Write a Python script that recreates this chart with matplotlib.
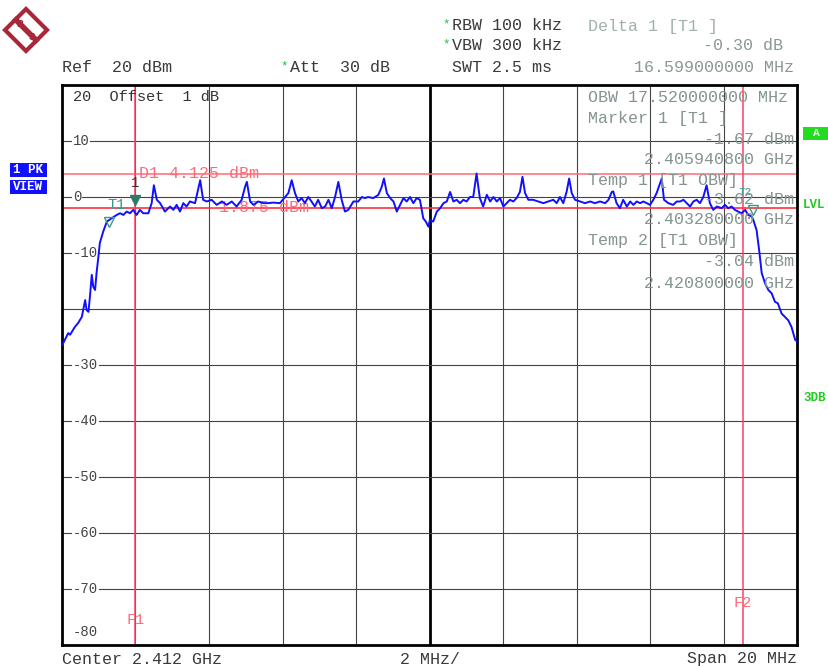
import numpy as np
import matplotlib
matplotlib.use("Agg")
import matplotlib.pyplot as plt
from matplotlib.patches import Polygon, Rectangle

# --- налаштування аналізатора ---
center_ghz = 2.412
span_mhz = 20.0
ref_level = 20
bottom_level = -80
db_ticks = [10, 0, -10, -20, -30, -40, -50, -60, -70, -80]
db_labels = ["10", "0", "-10", "", "-30", "-40", "-50", "-60", "-70", "-80"]

# --- трасa (зміщення від початку смуги, МГц / рівень, дБм) ---
offset_mhz = [0.01, 0.17, 0.22, 0.35, 0.44, 0.54, 0.63, 0.67, 0.72, 0.76, 0.81, 0.85, 0.90, 0.94,
              0.99, 1.03, 1.12, 1.22, 1.35, 1.49, 1.58, 1.67, 1.76, 1.85, 1.94, 2.03, 2.12, 2.21,
              2.35, 2.44, 2.50, 2.58, 2.67, 2.80, 2.94, 3.03, 3.12, 3.21, 3.30, 3.39, 3.48, 3.62,
              3.76, 3.84, 3.94, 4.07, 4.21, 4.35, 4.48, 4.62, 4.75, 4.89, 4.98, 5.03, 5.12, 5.21,
              5.34, 5.48, 5.61, 5.75, 5.93, 6.07, 6.16, 6.25, 6.34, 6.43, 6.52, 6.61, 6.70, 6.79,
              6.88, 6.97, 7.07, 7.16, 7.25, 7.34, 7.43, 7.52, 7.61, 7.70, 7.79, 7.93, 8.06, 8.16,
              8.24, 8.33, 8.47, 8.61, 8.70, 8.76, 8.84, 8.93, 9.02, 9.11, 9.20, 9.29, 9.38, 9.47,
              9.56, 9.65, 9.74, 9.83, 9.90, 9.97, 10.01, 10.10, 10.20, 10.29, 10.38, 10.47, 10.56,
              10.65, 10.74, 10.83, 10.92, 11.01, 11.10, 11.19, 11.24, 11.28, 11.37, 11.46, 11.56,
              11.65, 11.74, 11.83, 11.92, 12.01, 12.10, 12.19, 12.28, 12.37, 12.46, 12.53, 12.60,
              12.69, 12.82, 12.96, 13.10, 13.23, 13.37, 13.46, 13.55, 13.64, 13.73, 13.80, 13.87,
              13.96, 14.10, 14.23, 14.37, 14.50, 14.64, 14.78, 14.87, 14.96, 15.00, 15.09, 15.18,
              15.27, 15.37, 15.46, 15.55, 15.64, 15.73, 15.82, 15.91, 16.00, 16.09, 16.18, 16.32,
              16.38, 16.50, 16.63, 16.73, 16.82, 16.91, 17.00, 17.09, 17.18, 17.27, 17.36, 17.45,
              17.54, 17.63, 17.72, 17.82, 17.95, 18.04, 18.13, 18.22, 18.31, 18.40, 18.49, 18.59,
              18.67, 18.77, 18.81, 18.90, 18.97, 19.04, 19.13, 19.22, 19.31, 19.40, 19.48, 19.58,
              19.67, 19.76, 19.85, 19.95, 20.00]
level_dbm = [-26.4, -24.3, -24.6, -23.2, -22.5, -21.4, -18.4, -20.2, -20.5, -17.8, -13.9, -16.0, -16.6,
             -13.6, -10.7, -8.2, -6.2, -4.4, -3.8, -3.2, -2.9, -3.2, -2.6, -2.9, -2.3, -3.2, -2.3,
             -2.9, -2.9, -1.1, 2.1, -0.5, -1.1, -2.6, -1.7, -2.3, -1.4, -2.6, -1.1, -1.7, -0.8,
             -1.1, 3.0, -0.5, -0.8, -0.5, -1.4, -0.8, -1.4, -0.8, -1.7, -0.5, 1.8, 2.7, -0.8,
             -1.4, -0.8, -1.1, -1.1, -1.0, -1.1, 0.0, 0.7, 3.0, 0.7, -0.8, -0.2, -1.1, 0.0, -0.8,
             -1.7, -0.5, -2.0, -1.7, -0.5, -2.0, 0.0, 2.7, -0.5, -2.6, -2.3, -0.8, -0.8, 0.0,
             -0.2, 0.0, -0.2, 0.4, 1.8, 3.3, 0.7, -0.2, -0.8, -2.6, -1.4, -0.2, -0.8, 0.0, -1.1,
             -0.2, -0.5, -3.8, -4.4, -5.3, -4.1, -4.4, -2.6, -2.0, -1.1, -0.8, 0.9, -0.8, -0.5,
             -1.1, -0.5, -0.8, 0.0, 0.0, 2.4, 4.2, -0.2, -1.7, 0.4, -0.8, 0.0, -0.8, -0.2, -1.7,
             -1.1, -0.5, -0.8, -0.2, 0.9, 3.6, 0.7, -0.5, -0.5, -0.8, -1.1, -0.8, -0.5, -1.1,
             0.0, -1.1, 0.9, 3.3, 0.7, -0.5, -0.8, -1.1, -0.8, -1.1, -0.8, -1.1, -0.5, 0.9, 1.0,
             -1.1, -2.0, -0.5, -1.7, -0.8, -1.4, -0.8, -1.1, -0.8, -1.1, -1.4, -0.5, 0.7, 3.3,
             -0.5, -1.1, -1.4, -0.8, -0.8, -0.5, -1.1, -1.7, -0.8, -0.5, -1.1, 0.0, 2.1, -1.1,
             -2.3, -1.7, -2.0, -1.4, -2.0, -1.7, -2.3, -2.6, -2.9, -2.3, -3.2, -3.5, -4.1, -5.9,
             -9.5, -13.6, -15.4, -16.6, -17.2, -18.7, -19.0, -20.8, -21.4, -22.0, -23.2, -25.5,
             -25.8]

# --- маркери ---
marker1_ghz, marker1_dbm = 2.40399, -0.6
temp1_ghz, temp1_dbm = 2.40328, -3.6
temp2_ghz, temp2_dbm = 2.42080, -2.3
f1_ghz = 2.40399
f2_ghz = 2.42053
d1_line = 4.125
d1_low_line = -1.875

W, H = 829, 666
fig = plt.figure(figsize=(W / 100, H / 100), dpi=100)
fig.patch.set_facecolor("white")

mono = "Liberation Mono"
grey = "#3a3a3a"
teal = "#84948f"
pink = "#ff6a78"


def ftext(x, y, s, **kw):
    # текст у пікселях фігури (0,0 = лівий верхній кут)
    kw.setdefault("family", mono)
    kw.setdefault("fontsize", 12)
    kw.setdefault("color", grey)
    kw.setdefault("va", "center")
    return fig.text(x / W, 1 - y / H, s, **kw)


left, right, top, bottom = 62, 797, 85, 645
ax = fig.add_axes([left / W, 1 - bottom / H, (right - left) / W, (bottom - top) / H])
f_start = center_ghz - span_mhz / 2000
f_stop = center_ghz + span_mhz / 2000
ax.set_xlim(f_start, f_stop)
ax.set_ylim(bottom_level, ref_level)
ax.set_xticks([])
ax.set_yticks([])
for s in ax.spines.values():
    s.set_linewidth(2)
    s.set_color("black")

# сітка
v_grid = np.linspace(f_start, f_stop, 11)[1:-1]
for i, fx in enumerate(v_grid):
    ax.axvline(fx, color="black" if i == 4 else "#444444", lw=2 if i == 4 else 0.8, zorder=1)
for d in db_ticks[:-1]:
    ax.axhline(d, color="#444444", lw=0.8, zorder=1)

# лінії дисплея / частотні лінії
ax.axhline(d1_line, color=pink, lw=1.1, zorder=2)
ax.axhline(d1_low_line, color="#ff3040", lw=1.2, zorder=2)
ax.axvline(f1_ghz, color="#ff4060", lw=1.1, zorder=2)
ax.axvline(f2_ghz, color="#ff4060", lw=1.1, zorder=2)

# трасa
freq = f_start + np.array(offset_mhz) / 1000
ax.plot(freq, level_dbm, color="#1010ff", lw=1.4, zorder=4)

# маркери
ax.plot(marker1_ghz, marker1_dbm, marker="v", color="#2e7a6a", ms=7, zorder=5)
ax.text(marker1_ghz, marker1_dbm + 1.8, "1", family=mono, fontsize=10, color="#333333",
        ha="center", va="bottom", zorder=5)
ax.plot(temp1_ghz, temp1_dbm - 0.8, marker="v", mfc="none", mec="#3a9a8a", ms=7, zorder=5)
ax.text(temp1_ghz - 0.00005, temp1_dbm + 2.2, "T1", family=mono, fontsize=11, color="#3a9a8a",
        ha="left", va="center", zorder=5)
ax.plot(temp2_ghz, temp2_dbm, marker="v", mfc="none", mec="#3a9a8a", ms=7, zorder=5)
ax.text(temp2_ghz - 0.0002, temp2_dbm + 3.2, "T2", family=mono, fontsize=8, color="#3a9a8a",
        ha="center", va="center", zorder=5)

ax.text(f1_ghz + 0.0001, d1_line, "D1 4.125 dBm", family=mono, fontsize=12, color=pink,
        va="center", ha="left", zorder=3)
ax.text(f1_ghz + 0.002, d1_low_line, "-1.875 dBm", family=mono, fontsize=12, color=pink,
        va="center", ha="left", zorder=3)
ax.text(f1_ghz, -75.5, "F1", family=mono, fontsize=11, color=pink, ha="center", va="center", zorder=3)
ax.text(f2_ghz, -72.5, "F2", family=mono, fontsize=11, color=pink, ha="center", va="center", zorder=3)

# підписи рівнів
for d, lab in zip(db_ticks, db_labels):
    if not lab:
        continue
    yy = d + 2.3 if d == bottom_level else d
    ax.text(f_start + 0.0003, yy, lab, family=mono, fontsize=10, color="#444444", ha="left",
            va="center", zorder=3,
            bbox=dict(facecolor="white", edgecolor="none", pad=0.5) if d != bottom_level else None)
ax.text(f_start + 0.0003, ref_level - 2.1, "20  Offset  1 dB", family=mono, fontsize=11,
        color="#333333", ha="left", va="center", zorder=3)

# таблиця маркерів у полі графіка
rows = [("OBW 17.520000000 MHz", 97, "left"), ("Marker 1 [T1 ]", 118, "left"),
        ("-1.67 dBm", 139, "right"), ("2.405940800 GHz", 160, "right"),
        ("Temp 1 [T1 OBW]", 180, "left"), ("-3.62 dBm", 200, "right"),
        ("2.403280000 GHz", 220, "right"), ("Temp 2 [T1 OBW]", 241, "left"),
        ("-3.04 dBm", 262, "right"), ("2.420800000 GHz", 283, "right")]
for s, y, ha in rows:
    ftext(588 if ha == "left" else 794, y, s, ha=ha, color=teal, zorder=3)

# заголовок
ftext(62, 68, "Ref  20 dBm")
ftext(290, 68, "Att  30 dB")
ftext(284, 66, "*", color="#20c040", fontsize=9, ha="center")
ftext(452, 26, "RBW 100 kHz")
ftext(452, 46, "VBW 300 kHz")
ftext(446, 24, "*", color="#20c040", fontsize=9, ha="center")
ftext(446, 44, "*", color="#20c040", fontsize=9, ha="center")
ftext(452, 68, "SWT 2.5 ms")
ftext(588, 26, "Delta 1 [T1 ]", color="#a0b0ac")
ftext(783, 46, "-0.30 dB", ha="right", color="#8a9894")
ftext(794, 68, "16.599000000 MHz", ha="right", color="#8a9894")

# нижній рядок
ftext(62, 659, "Center 2.412 GHz")
ftext(430, 659, "2 MHz/", ha="center")
ftext(797, 659, "Span 20 MHz", ha="right")

# бічні індикатори
for y, s in [(170, "1 PK"), (187, "VIEW")]:
    fig.patches.append(Rectangle((10 / W, 1 - (y + 7) / H), 37 / W, 14 / H, transform=fig.transFigure,
                                 facecolor="#1010ff", edgecolor="none"))
    ftext(28, y, s, ha="center", color="white", fontsize=9, weight="bold")
fig.patches.append(Rectangle((803 / W, 1 - 140 / H), 26 / W, 13 / H, transform=fig.transFigure,
                             facecolor="#20dd20", edgecolor="none"))
ftext(816, 133, "A", ha="center", color="white", fontsize=8, weight="bold")
ftext(803, 205, "LVL", color="#20cc20", fontsize=9, weight="bold")
ftext(803, 398, "3DB", color="#20cc20", fontsize=9, weight="bold")

# логотип R&S
cx, cy, r = 26, 30, 21
pts = [((cx) / W, 1 - (cy - r) / H), ((cx + r) / W, 1 - cy / H),
       (cx / W, 1 - (cy + r) / H), ((cx - r) / W, 1 - cy / H)]
fig.patches.append(Polygon(pts, closed=True, transform=fig.transFigure, facecolor="white",
                           edgecolor="#a8283a", lw=3))
fig.lines.append(plt.Line2D([(cx - 10) / W, (cx + 10) / W], [1 - (cy - 10) / H, 1 - (cy + 10) / H],
                            transform=fig.transFigure, color="#a8283a", lw=4))
ftext(cx - 6, cy - 6, "R", color="#a8283a", fontsize=8, ha="center", weight="bold")
ftext(cx + 6, cy + 7, "S", color="#a8283a", fontsize=8, ha="center", weight="bold")

fig.savefig("out.png", dpi=100)
